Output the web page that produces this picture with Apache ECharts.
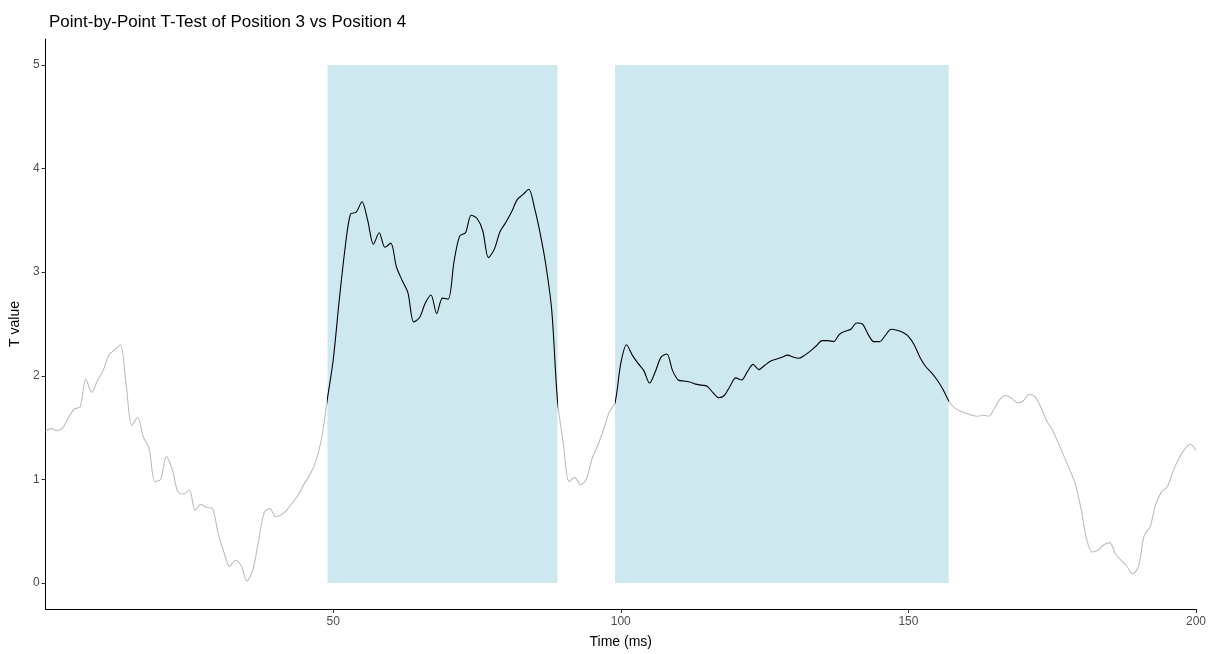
<!DOCTYPE html>
<html>
<head>
<meta charset="utf-8">
<script src="https://cdn.jsdelivr.net/npm/echarts@6/dist/echarts.min.js"></script>
<style>
  html, body { margin: 0; padding: 0; background: #fff; }
  #chart { width: 1213px; height: 654px; }
</style>
</head>
<body>
<div id="chart"></div>
<script>
// time points (ms) and T values
const timeMs = [];
for (let t = 0; t <= 200; t++) timeMs.push(t);

const tValues = [
  1.47, 1.49, 1.47, 1.50, 1.60, 1.68, 1.70, 1.97, 1.84, 1.95,
  2.05, 2.20, 2.25, 2.30, 1.92, 1.52, 1.60, 1.41, 1.30, 0.98,
  1.00, 1.22, 1.10, 0.88, 0.86, 0.90, 0.70, 0.76, 0.73, 0.72,
  0.48, 0.30, 0.16, 0.22, 0.17, 0.02, 0.12, 0.40, 0.68, 0.72,
  0.64, 0.66, 0.71, 0.78, 0.86, 0.96, 1.05, 1.18, 1.40, 1.78,
  2.15, 2.70, 3.20, 3.56, 3.58, 3.68, 3.50, 3.27, 3.38, 3.24,
  3.28, 3.05, 2.92, 2.80, 2.52, 2.56, 2.70, 2.78, 2.60, 2.75,
  2.74, 3.10, 3.35, 3.38, 3.55, 3.52, 3.40, 3.14, 3.22, 3.39,
  3.48, 3.58, 3.70, 3.75, 3.80, 3.62, 3.37, 3.06, 2.63, 1.76,
  1.35, 0.98, 1.02, 0.95, 1.00, 1.20, 1.33, 1.48, 1.65, 1.74,
  2.12, 2.30, 2.20, 2.12, 2.05, 1.93, 2.04, 2.18, 2.21, 2.05,
  1.96, 1.95, 1.94, 1.92, 1.91, 1.90, 1.84, 1.79, 1.81, 1.90,
  1.98, 1.96, 2.04, 2.11, 2.06, 2.10, 2.14, 2.16, 2.18, 2.20,
  2.18, 2.17, 2.20, 2.24, 2.29, 2.34, 2.34, 2.33, 2.40, 2.43,
  2.45, 2.51, 2.50, 2.40, 2.33, 2.33, 2.39, 2.45, 2.44, 2.42,
  2.38, 2.30, 2.18, 2.09, 2.03, 1.96, 1.87, 1.76, 1.69, 1.66,
  1.64, 1.62, 1.61, 1.62, 1.61, 1.69, 1.78, 1.81, 1.78, 1.74,
  1.76, 1.82, 1.80, 1.70, 1.57, 1.48, 1.36, 1.23, 1.10, 0.96,
  0.72, 0.42, 0.30, 0.32, 0.37, 0.39, 0.28, 0.22, 0.16, 0.09,
  0.16, 0.46, 0.54, 0.76, 0.88, 0.93, 1.08, 1.20, 1.29, 1.34,
  1.28
];

// significant windows [start, end] in ms
const sigStart = [49, 99];
const sigEnd = [89, 157];

// tick labels
const xTicks = [50, 100, 150, 200];
const yTicks = [0, 1, 2, 3, 4, 5];

const chart = echarts.init(document.getElementById('chart'));

const lineData = timeMs.map((t, i) => [t, tValues[i]]);

const option = {
  backgroundColor: '#fff',
  animation: false,
  title: {
    text: 'Point-by-Point T-Test of Position 3 vs Position 4',
    left: 44,
    top: 9,
    textStyle: { fontFamily: 'Liberation Sans', fontSize: 17, fontWeight: 'normal', color: '#000' }
  },
  grid: { left: 45, right: 17, top: 39, bottom: 44 },
  // line is black inside the significant windows, grey elsewhere
  visualMap: {
    show: false,
    type: 'piecewise',
    dimension: 0,
    seriesIndex: 0,
    pieces: sigStart.map((s, i) => ({ gte: s, lte: sigEnd[i], color: '#000000' })),
    outOfRange: { color: '#bdbdbd' }
  },
  xAxis: {
    type: 'value',
    min: 0,
    max: 200,
    name: 'Time (ms)',
    nameLocation: 'middle',
    nameGap: 26,
    nameTextStyle: { fontFamily: 'Liberation Sans', fontSize: 14, color: '#000' },
    splitLine: { show: false },
    axisLine: { onZero: false, lineStyle: { color: '#000', width: 1 } },
    axisTick: { customValues: xTicks, length: 4, lineStyle: { color: '#333' } },
    axisLabel: { customValues: xTicks, margin: 7, color: '#4d4d4d', fontFamily: 'Liberation Sans', fontSize: 12 }
  },
  yAxis: {
    type: 'value',
    min: -0.25,
    max: 5.25,
    name: 'T value',
    nameLocation: 'middle',
    nameGap: 18,
    nameRotate: 90,
    nameTextStyle: { fontFamily: 'Liberation Sans', fontSize: 14, color: '#000' },
    splitLine: { show: false },
    axisLine: { show: true, lineStyle: { color: '#000', width: 1 } },
    axisTick: { show: true, customValues: yTicks, length: 4, lineStyle: { color: '#333' } },
    axisLabel: { customValues: yTicks, margin: 6, color: '#4d4d4d', fontFamily: 'Liberation Sans', fontSize: 12 }
  },
  series: [
    {
      type: 'line',
      data: lineData,
      showSymbol: false,
      symbol: 'none',
      smooth: 0.3,
      lineStyle: { width: 1.1 },
      z: 3,
      markArea: {
        silent: true,
        itemStyle: { color: '#cee8ef' },
        data: sigStart.map((s, i) => [
          { xAxis: s, yAxis: 0 },
          { xAxis: sigEnd[i], yAxis: 5 }
        ])
      }
    }
  ]
};

chart.setOption(option);
</script>
</body>
</html>
